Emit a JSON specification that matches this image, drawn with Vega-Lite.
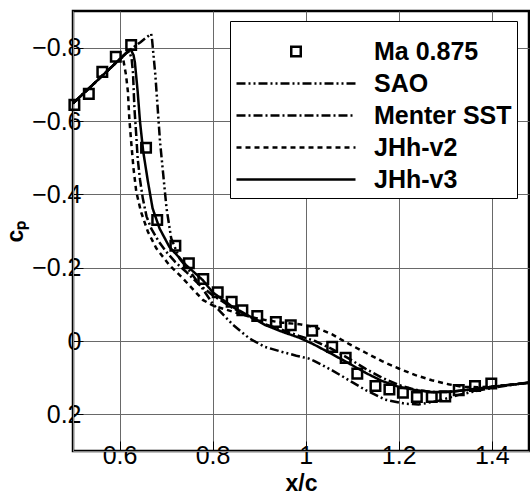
{
  "$schema": "https://vega.github.io/schema/vega-lite/v6.json",
  "autosize": "none",
  "width": 456,
  "height": 440,
  "padding": {"left": 73, "top": 11, "right": 1, "bottom": 53},
  "background": "white",
  "config": {
    "view": {"stroke": "black", "strokeWidth": 2.5},
    "axis": {
      "labelFont": "Liberation Sans", "labelFontSize": 25, "labelColor": "black",
      "titleFont": "Liberation Sans", "titleFontSize": 23, "titleFontWeight": "bold", "titleColor": "black"
    },
    "legend": {
      "orient": "none", "legendX": 157, "legendY": 10, "strokeColor": "black", "fillColor": "white", "padding": 5, "zindex": 3,
      "titleFontSize": 9, "titleColor": "white", "titlePadding": 4,
      "symbolSize": 14161, "symbolStrokeWidth": 2.5, "symbolStrokeColor": "black", "symbolFillColor": "white",
      "labelFont": "Liberation Sans", "labelFontSize": 25, "labelFontWeight": "bold", "labelColor": "black", "labelOffset": 17, "labelLimit": 300, "rowPadding": 6, "clipHeight": 25
    }
  },
  "datasets": {
    "curves": [
      {"series": "JHh-v3", "x": 0.5, "cp": -0.648}, {"series": "JHh-v3", "x": 0.55, "cp": -0.708}, {"series": "JHh-v3", "x": 0.6, "cp": -0.768}, {"series": "JHh-v3", "x": 0.618, "cp": -0.79}, {"series": "JHh-v3", "x": 0.624, "cp": -0.795}, {"series": "JHh-v3", "x": 0.63, "cp": -0.78}, {"series": "JHh-v3", "x": 0.633, "cp": -0.76}, {"series": "JHh-v3", "x": 0.639, "cp": -0.68}, {"series": "JHh-v3", "x": 0.644, "cp": -0.598}, {"series": "JHh-v3", "x": 0.651, "cp": -0.516}, {"series": "JHh-v3", "x": 0.661, "cp": -0.435}, {"series": "JHh-v3", "x": 0.671, "cp": -0.362}, {"series": "JHh-v3", "x": 0.686, "cp": -0.307}, {"series": "JHh-v3", "x": 0.707, "cp": -0.257}, {"series": "JHh-v3", "x": 0.743, "cp": -0.207}, {"series": "JHh-v3", "x": 0.779, "cp": -0.166}, {"series": "JHh-v3", "x": 0.8, "cp": -0.133}, {"series": "JHh-v3", "x": 0.843, "cp": -0.093}, {"series": "JHh-v3", "x": 0.879, "cp": -0.068}, {"series": "JHh-v3", "x": 0.914, "cp": -0.043}, {"series": "JHh-v3", "x": 0.95, "cp": -0.025}, {"series": "JHh-v3", "x": 0.986, "cp": -0.009}, {"series": "JHh-v3", "x": 1.014, "cp": 0.007}, {"series": "JHh-v3", "x": 1.057, "cp": 0.036}, {"series": "JHh-v3", "x": 1.093, "cp": 0.061}, {"series": "JHh-v3", "x": 1.129, "cp": 0.087}, {"series": "JHh-v3", "x": 1.164, "cp": 0.109}, {"series": "JHh-v3", "x": 1.2, "cp": 0.125}, {"series": "JHh-v3", "x": 1.236, "cp": 0.134}, {"series": "JHh-v3", "x": 1.271, "cp": 0.139}, {"series": "JHh-v3", "x": 1.307, "cp": 0.139}, {"series": "JHh-v3", "x": 1.343, "cp": 0.134}, {"series": "JHh-v3", "x": 1.4, "cp": 0.125}, {"series": "JHh-v3", "x": 1.48, "cp": 0.114},

      {"series": "SAO", "x": 0.5, "cp": -0.648}, {"series": "SAO", "x": 0.55, "cp": -0.708}, {"series": "SAO", "x": 0.6, "cp": -0.768}, {"series": "SAO", "x": 0.62, "cp": -0.792}, {"series": "SAO", "x": 0.645, "cp": -0.815}, {"series": "SAO", "x": 0.668, "cp": -0.838}, {"series": "SAO", "x": 0.67, "cp": -0.821}, {"series": "SAO", "x": 0.677, "cp": -0.725}, {"series": "SAO", "x": 0.682, "cp": -0.635}, {"series": "SAO", "x": 0.687, "cp": -0.544}, {"series": "SAO", "x": 0.694, "cp": -0.453}, {"series": "SAO", "x": 0.701, "cp": -0.362}, {"series": "SAO", "x": 0.711, "cp": -0.28}, {"series": "SAO", "x": 0.729, "cp": -0.225}, {"series": "SAO", "x": 0.757, "cp": -0.18}, {"series": "SAO", "x": 0.78, "cp": -0.14}, {"series": "SAO", "x": 0.8, "cp": -0.102}, {"series": "SAO", "x": 0.843, "cp": -0.045}, {"series": "SAO", "x": 0.879, "cp": -0.007}, {"series": "SAO", "x": 0.912, "cp": 0.016}, {"series": "SAO", "x": 0.95, "cp": 0.03}, {"series": "SAO", "x": 0.98, "cp": 0.04}, {"series": "SAO", "x": 1.007, "cp": 0.048}, {"series": "SAO", "x": 1.018, "cp": 0.054}, {"series": "SAO", "x": 1.057, "cp": 0.08}, {"series": "SAO", "x": 1.093, "cp": 0.107}, {"series": "SAO", "x": 1.129, "cp": 0.134}, {"series": "SAO", "x": 1.171, "cp": 0.16}, {"series": "SAO", "x": 1.214, "cp": 0.171}, {"series": "SAO", "x": 1.243, "cp": 0.173}, {"series": "SAO", "x": 1.286, "cp": 0.163}, {"series": "SAO", "x": 1.329, "cp": 0.147}, {"series": "SAO", "x": 1.379, "cp": 0.133}, {"series": "SAO", "x": 1.43, "cp": 0.122}, {"series": "SAO", "x": 1.48, "cp": 0.113},

      {"series": "Menter SST", "x": 0.5, "cp": -0.648}, {"series": "Menter SST", "x": 0.55, "cp": -0.708}, {"series": "Menter SST", "x": 0.6, "cp": -0.768}, {"series": "Menter SST", "x": 0.615, "cp": -0.786}, {"series": "Menter SST", "x": 0.621, "cp": -0.79}, {"series": "Menter SST", "x": 0.626, "cp": -0.77}, {"series": "Menter SST", "x": 0.629, "cp": -0.73}, {"series": "Menter SST", "x": 0.632, "cp": -0.635}, {"series": "Menter SST", "x": 0.636, "cp": -0.56}, {"series": "Menter SST", "x": 0.639, "cp": -0.498}, {"series": "Menter SST", "x": 0.644, "cp": -0.44}, {"series": "Menter SST", "x": 0.65, "cp": -0.389}, {"series": "Menter SST", "x": 0.658, "cp": -0.34}, {"series": "Menter SST", "x": 0.668, "cp": -0.307}, {"series": "Menter SST", "x": 0.684, "cp": -0.272}, {"series": "Menter SST", "x": 0.7, "cp": -0.244}, {"series": "Menter SST", "x": 0.72, "cp": -0.215}, {"series": "Menter SST", "x": 0.743, "cp": -0.189}, {"series": "Menter SST", "x": 0.77, "cp": -0.155}, {"series": "Menter SST", "x": 0.8, "cp": -0.125}, {"series": "Menter SST", "x": 0.843, "cp": -0.09}, {"series": "Menter SST", "x": 0.88, "cp": -0.066}, {"series": "Menter SST", "x": 0.914, "cp": -0.045}, {"series": "Menter SST", "x": 0.95, "cp": -0.03}, {"series": "Menter SST", "x": 0.986, "cp": -0.014}, {"series": "Menter SST", "x": 1.02, "cp": 0.0}, {"series": "Menter SST", "x": 1.057, "cp": 0.022}, {"series": "Menter SST", "x": 1.093, "cp": 0.048}, {"series": "Menter SST", "x": 1.129, "cp": 0.076}, {"series": "Menter SST", "x": 1.164, "cp": 0.1}, {"series": "Menter SST", "x": 1.2, "cp": 0.12}, {"series": "Menter SST", "x": 1.236, "cp": 0.133}, {"series": "Menter SST", "x": 1.271, "cp": 0.139}, {"series": "Menter SST", "x": 1.307, "cp": 0.139}, {"series": "Menter SST", "x": 1.343, "cp": 0.134}, {"series": "Menter SST", "x": 1.4, "cp": 0.125}, {"series": "Menter SST", "x": 1.48, "cp": 0.114},

      {"series": "JHh-v2", "x": 0.5, "cp": -0.648}, {"series": "JHh-v2", "x": 0.55, "cp": -0.708}, {"series": "JHh-v2", "x": 0.6, "cp": -0.768}, {"series": "JHh-v2", "x": 0.607, "cp": -0.775}, {"series": "JHh-v2", "x": 0.614, "cp": -0.725}, {"series": "JHh-v2", "x": 0.618, "cp": -0.68}, {"series": "JHh-v2", "x": 0.621, "cp": -0.607}, {"series": "JHh-v2", "x": 0.625, "cp": -0.544}, {"series": "JHh-v2", "x": 0.63, "cp": -0.471}, {"series": "JHh-v2", "x": 0.636, "cp": -0.407}, {"series": "JHh-v2", "x": 0.646, "cp": -0.353}, {"series": "JHh-v2", "x": 0.661, "cp": -0.298}, {"series": "JHh-v2", "x": 0.679, "cp": -0.253}, {"series": "JHh-v2", "x": 0.707, "cp": -0.207}, {"series": "JHh-v2", "x": 0.736, "cp": -0.171}, {"series": "JHh-v2", "x": 0.779, "cp": -0.112}, {"series": "JHh-v2", "x": 0.8, "cp": -0.097}, {"series": "JHh-v2", "x": 0.843, "cp": -0.08}, {"series": "JHh-v2", "x": 0.88, "cp": -0.066}, {"series": "JHh-v2", "x": 0.914, "cp": -0.057}, {"series": "JHh-v2", "x": 0.95, "cp": -0.05}, {"series": "JHh-v2", "x": 0.986, "cp": -0.046}, {"series": "JHh-v2", "x": 1.02, "cp": -0.038}, {"series": "JHh-v2", "x": 1.057, "cp": -0.018}, {"series": "JHh-v2", "x": 1.093, "cp": 0.008}, {"series": "JHh-v2", "x": 1.129, "cp": 0.032}, {"series": "JHh-v2", "x": 1.164, "cp": 0.055}, {"series": "JHh-v2", "x": 1.2, "cp": 0.075}, {"series": "JHh-v2", "x": 1.236, "cp": 0.093}, {"series": "JHh-v2", "x": 1.271, "cp": 0.107}, {"series": "JHh-v2", "x": 1.307, "cp": 0.118}, {"series": "JHh-v2", "x": 1.336, "cp": 0.125}, {"series": "JHh-v2", "x": 1.37, "cp": 0.126}, {"series": "JHh-v2", "x": 1.4, "cp": 0.124}, {"series": "JHh-v2", "x": 1.48, "cp": 0.114}
    ],
    "experiment": [
      {"series": "Ma 0.875", "x": 0.503, "cp": -0.644}, {"series": "Ma 0.875", "x": 0.534, "cp": -0.674}, {"series": "Ma 0.875", "x": 0.563, "cp": -0.734}, {"series": "Ma 0.875", "x": 0.592, "cp": -0.775}, {"series": "Ma 0.875", "x": 0.625, "cp": -0.807}, {"series": "Ma 0.875", "x": 0.657, "cp": -0.527}, {"series": "Ma 0.875", "x": 0.681, "cp": -0.33}, {"series": "Ma 0.875", "x": 0.72, "cp": -0.26}, {"series": "Ma 0.875", "x": 0.749, "cp": -0.212}, {"series": "Ma 0.875", "x": 0.78, "cp": -0.169}, {"series": "Ma 0.875", "x": 0.811, "cp": -0.133}, {"series": "Ma 0.875", "x": 0.841, "cp": -0.107}, {"series": "Ma 0.875", "x": 0.864, "cp": -0.084}, {"series": "Ma 0.875", "x": 0.896, "cp": -0.068}, {"series": "Ma 0.875", "x": 0.936, "cp": -0.052}, {"series": "Ma 0.875", "x": 0.968, "cp": -0.043}, {"series": "Ma 0.875", "x": 1.014, "cp": -0.028}, {"series": "Ma 0.875", "x": 1.057, "cp": 0.016}, {"series": "Ma 0.875", "x": 1.086, "cp": 0.046}, {"series": "Ma 0.875", "x": 1.111, "cp": 0.089}, {"series": "Ma 0.875", "x": 1.15, "cp": 0.123}, {"series": "Ma 0.875", "x": 1.18, "cp": 0.132}, {"series": "Ma 0.875", "x": 1.209, "cp": 0.141}, {"series": "Ma 0.875", "x": 1.239, "cp": 0.153}, {"series": "Ma 0.875", "x": 1.271, "cp": 0.153}, {"series": "Ma 0.875", "x": 1.3, "cp": 0.151}, {"series": "Ma 0.875", "x": 1.329, "cp": 0.134}, {"series": "Ma 0.875", "x": 1.364, "cp": 0.123}, {"series": "Ma 0.875", "x": 1.399, "cp": 0.116}
    ]
  },
  "encoding": {
    "x": {"field": "x", "type": "quantitative", "scale": {"domain": [0.5, 1.48], "nice": false, "zero": false},
      "axis": {"orient": "bottom", "values": [0.6, 0.8, 1, 1.2, 1.4], "format": "~g", "tickSize": -10, "grid": true, "gridColor": "dimgray", "tickColor": "black", "title": "x/c"}},
    "y": {"field": "cp", "type": "quantitative", "scale": {"domain": [-0.9, 0.3], "nice": false, "zero": false, "reverse": true},
      "axis": {"orient": "left", "values": [-0.8, -0.6, -0.4, -0.2, 0, 0.2], "format": "~g", "tickSize": -10, "grid": true, "gridColor": "dimgray", "tickColor": "black", "title": "cₚ"}}
  },
  "layer": [
    {
      "data": {"name": "curves"},
      "mark": {"type": "line", "color": "black", "strokeWidth": 2.5, "clip": true},
      "encoding": {
        "strokeDash": {"field": "series", "type": "nominal",
          "scale": {"domain": ["Ma 0.875", "SAO", "Menter SST", "JHh-v2", "JHh-v3"], "range": [[1, 0], [9, 3, 2, 3, 2, 3], [9, 3, 2, 3], [5, 4], [1, 0]]},
          "legend": {"title": "."}}
      }
    },
    {
      "data": {"name": "experiment"},
      "mark": {"type": "point", "filled": false, "stroke": "black", "strokeWidth": 2.5, "size": 14161, "opacity": 1},
      "encoding": {
        "shape": {"field": "series", "type": "nominal",
          "scale": {"domain": ["Ma 0.875", "SAO", "Menter SST", "JHh-v2", "JHh-v3"], "range": ["M-0.08,-0.08H0.08V0.08H-0.08Z", "stroke", "stroke", "stroke", "stroke"]},
          "legend": {"title": "."}}
      }
    }
  ]
}
